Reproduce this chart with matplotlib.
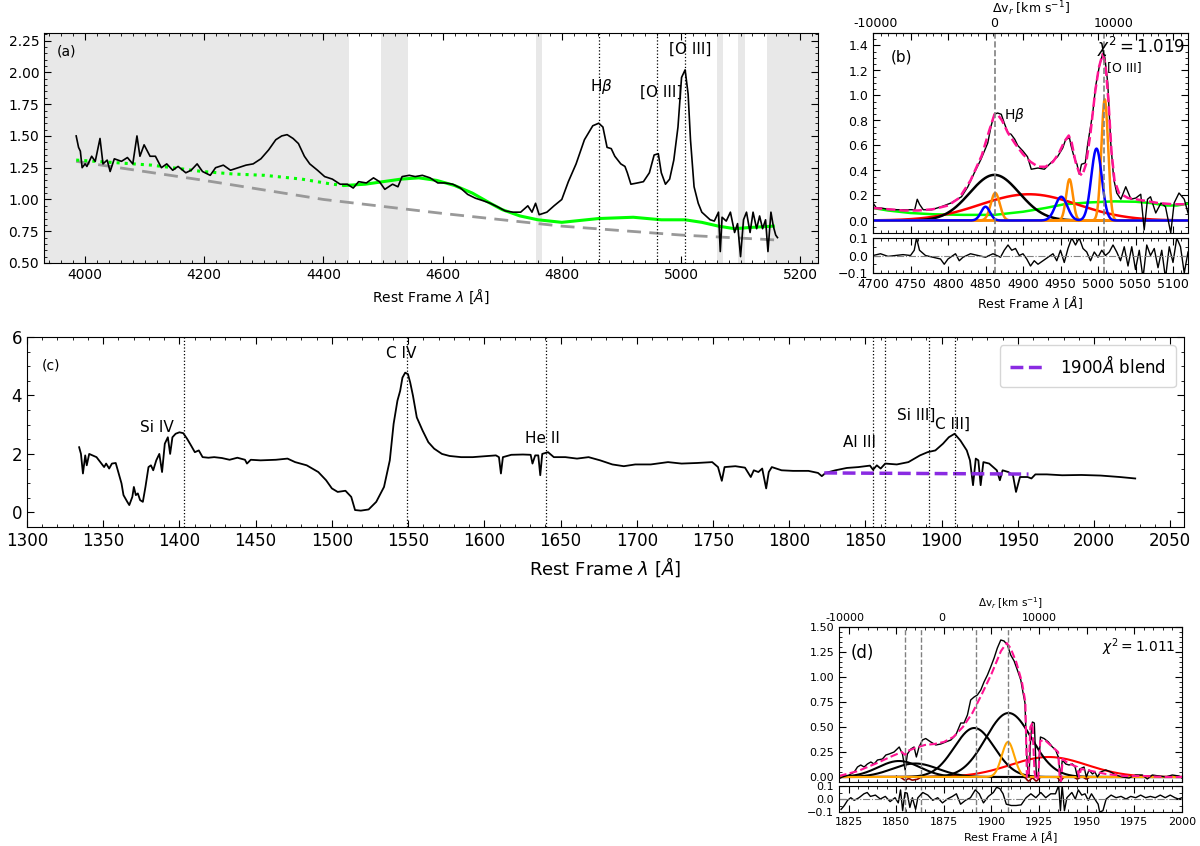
import numpy as np
import matplotlib
matplotlib.use("Agg")
import matplotlib.pyplot as plt
from matplotlib.ticker import MultipleLocator

# ---------------- panel (a): optical spectrum ----------------
wa = [3985, 3989, 3992, 3995, 4000, 4003, 4011, 4017, 4025, 4030, 4037, 4042, 4049, 4061, 4071,
      4080, 4087, 4092, 4099, 4109, 4118, 4128, 4137, 4147, 4156, 4169, 4178, 4188, 4197, 4210,
      4219, 4232, 4244, 4257, 4270, 4282, 4295, 4308, 4320, 4330, 4339, 4349, 4358, 4368, 4377,
      4390, 4402, 4415, 4428, 4440, 4450, 4459, 4472, 4484, 4494, 4503, 4516, 4525, 4532, 4544,
      4554, 4566, 4579, 4592, 4604, 4617, 4630, 4642, 4655, 4668, 4680, 4693, 4705, 4718, 4731,
      4743, 4750, 4756, 4762, 4775, 4787, 4800, 4811, 4824, 4838, 4852, 4862, 4869, 4876, 4883,
      4889, 4899, 4906, 4910, 4916, 4927, 4937, 4947, 4955, 4962, 4967, 4974, 4981, 4988, 4995,
      5001, 5007, 5012, 5016, 5022, 5029, 5035, 5042, 5049, 5056, 5063, 5066, 5069, 5076, 5083,
      5090, 5095, 5100, 5105, 5110, 5116, 5121, 5127, 5132, 5137, 5142, 5146, 5151, 5155, 5159, 5162]
fa = [1.50, 1.41, 1.38, 1.25, 1.28, 1.26, 1.34, 1.30, 1.48, 1.28, 1.31, 1.22, 1.32, 1.30, 1.33,
      1.28, 1.50, 1.34, 1.43, 1.34, 1.34, 1.25, 1.28, 1.23, 1.26, 1.21, 1.23, 1.28, 1.22, 1.19,
      1.25, 1.27, 1.23, 1.25, 1.27, 1.28, 1.32, 1.39, 1.47, 1.50, 1.51, 1.48, 1.44, 1.34, 1.28,
      1.23, 1.18, 1.16, 1.12, 1.12, 1.09, 1.14, 1.13, 1.17, 1.14, 1.08, 1.12, 1.10, 1.18, 1.19,
      1.18, 1.19, 1.17, 1.13, 1.13, 1.12, 1.09, 1.04, 1.01, 0.99, 0.97, 0.94, 0.91, 0.90, 0.90,
      0.95, 0.90, 0.97, 0.88, 0.90, 0.95, 1.00, 1.14, 1.28, 1.47, 1.58, 1.60, 1.57, 1.41, 1.40,
      1.34, 1.28, 1.26, 1.21, 1.12, 1.13, 1.14, 1.21, 1.35, 1.36, 1.21, 1.12, 1.16, 1.31, 1.57,
      1.96, 2.02, 1.83, 1.47, 1.10, 0.97, 0.90, 0.87, 0.84, 0.83, 0.90, 0.59, 0.86, 0.83, 0.90,
      0.74, 0.81, 0.55, 0.84, 0.90, 0.74, 0.90, 0.77, 0.87, 0.77, 0.84, 0.59, 0.90, 0.79, 0.72, 0.70]

# Fe II template: solid inside the fit window, dotted outside
feii_w = [4435, 4470, 4500, 4530, 4560, 4590, 4620, 4650, 4680, 4700, 4730, 4760, 4800, 4862,
          4920, 4967, 5007, 5035, 5063, 5090, 5117, 5155]
feii_f = [1.11, 1.12, 1.14, 1.16, 1.17, 1.15, 1.11, 1.05, 0.97, 0.92, 0.87, 0.84, 0.82, 0.85,
          0.86, 0.84, 0.84, 0.82, 0.79, 0.77, 0.78, 0.79]
feii_dot_w = [3985, 4050, 4112, 4197, 4250, 4301, 4364, 4415, 4435]
feii_dot_f = [1.31, 1.29, 1.27, 1.22, 1.20, 1.19, 1.16, 1.12, 1.11]

pl_w = [3985, 4200, 4400, 4600, 4800, 5000, 5165]
pl_f = [1.30, 1.15, 1.00, 0.89, 0.79, 0.72, 0.68]

mask_lo = [3931, 4496, 4756, 5061, 5095, 5144]
mask_hi = [4443, 4542, 4766, 5071, 5108, 5230]

lines_a = [4862, 4959, 5007]

# ---------------- panel (b): Hbeta fit ----------------
wb = [4700, 4704.6, 4711, 4720, 4733, 4747, 4755.6, 4759, 4762, 4767, 4778, 4791, 4804, 4818,
      4826.5, 4835, 4844, 4853, 4857.6, 4862, 4866, 4871, 4875, 4880, 4884, 4889, 4893, 4900,
      4906, 4911, 4920, 4928.5, 4937, 4946, 4953, 4957, 4962, 4964, 4968, 4972, 4975, 4978,
      4983, 4986, 4993, 4997, 5002, 5006, 5009, 5013, 5017, 5021, 5025, 5030.5, 5037, 5044,
      5050.5, 5057, 5061.6, 5066, 5070, 5077, 5084, 5090, 5097, 5101.5, 5108, 5115, 5120]
fb = [0.14, 0.10, 0.10, 0.09, 0.086, 0.086, 0.086, 0.17, 0.13, 0.086, 0.086, 0.11, 0.14, 0.19,
      0.27, 0.38, 0.49, 0.62, 0.76, 0.85, 0.86, 0.85, 0.78, 0.70, 0.69, 0.65, 0.60, 0.555,
      0.51, 0.41, 0.42, 0.41, 0.46, 0.51, 0.58, 0.65, 0.66, 0.60, 0.51, 0.45, 0.37, 0.45,
      0.46, 0.60, 0.86, 1.08, 1.24, 1.33, 1.31, 1.10, 0.62, 0.33, 0.22, 0.17, 0.27, 0.17,
      0.18, 0.21, -0.075, 0.17, 0.19, 0.06, 0.14, 0.11, -0.10, 0.14, 0.22, 0.17, 0.06]

fit_bw = [4700, 4720, 4740, 4760, 4780, 4800, 4815, 4830, 4845, 4855, 4862, 4866, 4872, 4880,
          4890, 4900, 4910, 4920, 4930, 4940, 4948, 4955, 4961, 4965, 4970, 4975, 4979, 4984,
          4990, 4996, 5001, 5006, 5010, 5014, 5018, 5022, 5028, 5040, 5060, 5080, 5100, 5120]
fit_bf = [0.10, 0.09, 0.08, 0.08, 0.09, 0.12, 0.18, 0.32, 0.52, 0.72, 0.85, 0.85, 0.80, 0.70,
          0.61, 0.53, 0.47, 0.43, 0.43, 0.47, 0.54, 0.63, 0.68, 0.62, 0.47, 0.38, 0.36, 0.45,
          0.70, 1.02, 1.22, 1.33, 1.25, 0.95, 0.55, 0.32, 0.22, 0.18, 0.16, 0.14, 0.13, 0.13]

feb_w = [4700, 4720, 4750, 4780, 4820, 4862, 4900, 4930, 4955, 4990, 5022, 5050, 5070, 5090, 5105, 5120]
feb_f = [0.10, 0.08, 0.06, 0.05, 0.045, 0.045, 0.07, 0.10, 0.13, 0.145, 0.153, 0.15, 0.14, 0.12, 0.12, 0.135]

# gaussian components: (amplitude, centre, sigma)
b_black = [(0.365, 4862, 33)]
b_red = [(0.21, 4908, 65)]
b_blue = [(0.11, 4850, 6), (0.19, 4951, 8), (0.575, 4998, 7)]
b_orange = [(0.22, 4863, 6), (0.33, 4962, 4.5), (0.97, 5009, 4.5)]

res_bw = [4700, 4710, 4720, 4730, 4740, 4750, 4755, 4758, 4762, 4770, 4780, 4790, 4795, 4800,
          4810, 4815, 4820, 4830, 4840, 4850, 4860, 4870, 4875, 4880, 4885, 4890, 4895, 4900,
          4905, 4910, 4915, 4920, 4930, 4940, 4945, 4950, 4955, 4960, 4965, 4970, 4975, 4980,
          4985, 4990, 4995, 5000, 5005, 5010, 5015, 5020, 5025, 5030, 5035, 5040, 5045, 5050,
          5055, 5060, 5065, 5070, 5075, 5080, 5085, 5090, 5095, 5100, 5105, 5110, 5115, 5120]
res_bf = [0.0, 0.01, -0.005, 0.0, 0.005, 0.0, 0.03, 0.10, 0.03, 0.0, -0.01, -0.02, -0.05, -0.02,
          0.01, -0.03, -0.01, 0.01, 0.0, -0.01, 0.01, -0.01, 0.03, 0.06, 0.03, 0.04, 0.0, 0.01,
          -0.02, -0.06, -0.03, -0.05, -0.02, 0.01, -0.03, 0.03, -0.04, 0.04, 0.10, 0.06, 0.10, 0.04,
          0.02, -0.03, 0.02, -0.01, 0.03, 0.0, 0.02, 0.06, 0.02, -0.03, 0.05, -0.06, 0.05, -0.08,
          0.03, -0.13, 0.06, 0.0, 0.04, -0.07, 0.03, -0.13, 0.05, -0.04, 0.10, 0.05, -0.10, 0.02]

# ---------------- panel (c): UV spectrum ----------------
wc = [1334.2, 1335.4, 1336.7, 1338.2, 1339.2, 1340.8, 1343, 1345.6, 1348.1, 1350.6, 1351.9, 1353.9,
      1355.7, 1358.2, 1360.8, 1362, 1363.3, 1365.8, 1367.1, 1369.1, 1370.1, 1371.4, 1372.7, 1374.2,
      1376, 1377.7, 1379.7, 1381.3, 1382.8, 1384.8, 1386.8, 1388.6, 1390.4, 1392.4, 1393.9, 1395.4,
      1397.5, 1400, 1402.5, 1405, 1407.6, 1410.1, 1412.7, 1415.2, 1419, 1422.8, 1427.8, 1432.9,
      1438, 1443, 1444.3, 1446.8, 1453.2, 1463.3, 1470.9, 1475.9, 1483.5, 1491.1, 1496.2, 1500,
      1503.8, 1508.9, 1512.7, 1515.2, 1519, 1524.1, 1529.1, 1534.2, 1538, 1540.5, 1543, 1544.8,
      1546.3, 1548.1, 1549.9, 1551.4, 1553.2, 1555.7, 1559.5, 1563.3, 1567.1, 1572.2, 1577.2,
      1584.8, 1592.4, 1600, 1607.6, 1609.6, 1610.9, 1612.2, 1617.7, 1625.3, 1630.4, 1631.6,
      1633.4, 1635.4, 1636.7, 1638, 1641.8, 1645.6, 1653.2, 1660.8, 1668.4, 1676, 1684, 1691.5,
      1699, 1709.2, 1720.5, 1729.4, 1739.5, 1749.5, 1753.3, 1755.8, 1757.6, 1764.7, 1771, 1774.8,
      1776.8, 1779.8, 1782.3, 1784.9, 1786.6, 1788.6, 1795, 1802.5, 1812.6, 1818.9, 1821.4,
      1823.9, 1830.3, 1837.8, 1845.4, 1853, 1855, 1857.5, 1860, 1863, 1870.6, 1878.2, 1885.8,
      1890.8, 1895.9, 1900.9, 1904.7, 1908.5, 1912.3, 1916.5, 1918.6, 1920.6, 1922.4, 1924.1,
      1925.6, 1927.4, 1931.2, 1936.2, 1938.2, 1940, 1943.8, 1946.8, 1948.8, 1951.4, 1956.4,
      1958.9, 1961.5, 1969, 1979.1, 1991.7, 2004.3, 2016.9, 2027]
fc = [2.23, 2.0, 1.33, 1.95, 1.61, 2.0, 1.95, 1.89, 1.72, 1.55, 1.67, 1.50,
      1.67, 1.69, 1.21, 0.99, 0.59, 0.36, 0.25, 0.53, 0.87, 0.59, 0.65, 0.42,
      0.36, 0.87, 1.55, 1.61, 1.44, 1.78, 2.0, 1.38, 2.35, 2.57, 2.0, 2.57,
      2.69, 2.74, 2.71, 2.52, 2.29, 2.06, 2.12, 1.89, 1.87, 1.89, 1.86, 1.80,
      1.87, 1.80, 1.67, 1.80, 1.78, 1.80, 1.84, 1.72, 1.61, 1.38, 1.10, 0.82,
      0.70, 0.74, 0.53, 0.08, 0.06, 0.10, 0.36, 0.87, 1.78, 3.03, 3.82, 4.16,
      4.61, 4.78, 4.73, 4.44, 3.99, 3.25, 2.80, 2.40, 2.18, 2.0, 1.93,
      1.89, 1.89, 1.92, 1.95, 1.89, 1.33, 1.89, 1.97, 1.98, 1.97, 1.67,
      1.95, 1.95, 1.27, 2.0, 2.06, 1.89, 1.89, 1.84, 1.89, 1.78, 1.64, 1.58,
      1.64, 1.64, 1.72, 1.67, 1.69, 1.72, 1.55, 1.08, 1.55, 1.58, 1.53, 1.21,
      1.44, 1.38, 1.50, 0.82, 1.38, 1.55, 1.44, 1.42, 1.42, 1.35, 1.24,
      1.35, 1.44, 1.52, 1.55, 1.60, 1.46, 1.61, 1.50, 1.67, 1.64, 1.72, 1.95,
      2.06, 2.12, 2.35, 2.57, 2.69, 2.46, 2.12, 1.78, 0.93, 1.84, 1.78,
      0.93, 1.72, 1.67, 1.44, 1.10, 1.44, 1.38, 1.27, 0.70, 1.21, 1.21,
      1.16, 1.30, 1.30, 1.27, 1.28, 1.26, 1.21, 1.16]

blend_w = [1823, 1957]
blend_f = [1.35, 1.31]

lines_c = [1402.8, 1549.1, 1640.4, 1854.7, 1862.8, 1892.0, 1908.7]
names_c = ['Si IV', 'C IV', 'He II', 'Al III', 'Si III]', 'C III]']
name_x = [1385, 1545.5, 1638, 1846, 1883, 1907]
name_y = [2.91, 5.43, 2.52, 2.40, 3.31, 3.0]

# ---------------- panel (d): 1900 blend fit ----------------
wd = [1819.7, 1821.8, 1825.3, 1828, 1829.7, 1831.4, 1833.2, 1834.9, 1836.7, 1838.4, 1840.2, 1842.8,
      1844.6, 1846.3, 1848.9, 1851.6, 1853.3, 1854.7, 1855.9, 1857.7, 1859.4, 1860.6, 1862, 1863.8,
      1865.5, 1868.2, 1870.8, 1873.4, 1876, 1878.7, 1881.3, 1883.9, 1885.6, 1887.4, 1889.1, 1890.9,
      1892.6, 1894.4, 1896.1, 1897.9, 1899.6, 1901.4, 1903.1, 1904.9, 1906.6, 1908.4, 1910.1,
      1911.9, 1913.6, 1915.4, 1916.6, 1917.6, 1918.7, 1919.7, 1920.6, 1921.5, 1922.5, 1923.6,
      1924.6, 1925.7, 1927.6, 1929.9, 1932, 1933.7, 1935.1, 1936.2, 1937.2, 1939, 1940.7, 1942.5,
      1943.9, 1945.1, 1946.3, 1948.6, 1949.8, 1951.2, 1953, 1954.3, 1955.6, 1957.3, 1960, 1962.6,
      1965.2, 1968.7, 1972.2, 1975.7, 1979.2, 1981.8, 1984.4, 1987.9, 1991.4, 1994.9, 1998.4, 2000]
fd = [-0.02, 0.0, 0.02, 0.05, 0.10, 0.12, 0.10, 0.13, 0.15, 0.13, 0.17, 0.18,
      0.22, 0.23, 0.25, 0.30, 0.23, 0.07, 0.23, 0.28, 0.30, 0.20, 0.30, 0.37,
      0.385, 0.35, 0.32, 0.33, 0.35, 0.37, 0.42, 0.54, 0.54, 0.62, 0.77, 0.80,
      0.82, 0.87, 0.95, 1.02, 1.10, 1.19, 1.29, 1.37, 1.36, 1.32, 1.22,
      1.16, 1.07, 0.97, 0.84, 0.74, 0.13, 0.0, 0.40, 0.55, 0.54, 0.0,
      0.02, 0.40, 0.385, 0.35, 0.30, 0.27, 0.20, 0.0, 0.17, 0.13, 0.12, 0.13,
      0.10, 0.0, 0.08, 0.10, 0.0, 0.07, 0.03, 0.05, 0.0, 0.05, 0.07, 0.05,
      0.02, 0.0, -0.01, 0.02, 0.02, -0.02, 0.02, 0.01, 0.0, 0.02, 0.01, -0.01]

fit_dw = [1820, 1830, 1840, 1848, 1853, 1854.7, 1856, 1860, 1865, 1870, 1875, 1880, 1885, 1890,
          1895, 1900, 1905, 1908, 1910, 1913, 1916, 1917.8, 1918.6, 1919.4, 1920.4, 1921.5,
          1922.6, 1923.5, 1924.6, 1925.6, 1928, 1932, 1935, 1935.8, 1936.5, 1937.4, 1940, 1945,
          1946, 1947, 1950, 1955, 1960, 1970, 1980, 1990, 2000]
fit_df = [0.01, 0.06, 0.14, 0.21, 0.25, 0.22, 0.26, 0.29, 0.32, 0.33, 0.35, 0.40, 0.50, 0.64,
          0.83, 1.03, 1.26, 1.34, 1.29, 1.15, 0.95, 0.75, 0.0, 0.0, 0.50, 0.54, 0.05, -0.03, 0.0,
          0.36, 0.37, 0.30, 0.25, 0.0, -0.04, 0.18, 0.14, 0.10, 0.0, 0.08, 0.07, 0.05, 0.03,
          0.01, 0.01, 0.0, 0.0]

d_black = [(0.16, 1851.5, 11), (0.135, 1860, 12), (0.49, 1891, 10.5), (0.64, 1909, 12)]
d_orange = [(0.35, 1908.7, 3.3)]
d_red = [(0.20, 1930, 20)]
d_abs = [(-0.03, 1854.7, 1.2), (-0.03, 1858.5, 1.2), (-0.02, 1861, 1.0), (-0.04, 1919.5, 1.0),
         (-0.04, 1923.5, 1.0), (-0.04, 1936.2, 0.8), (-0.02, 1945, 0.8), (-0.02, 1949.8, 0.8)]

res_dw = [1821.1, 1822.8, 1824.5, 1826.2, 1828, 1830.5, 1833.1, 1834.8, 1836.5, 1839.1, 1841.7,
          1844.3, 1846.8, 1849.4, 1851.1, 1852.3, 1853.4, 1854.6, 1855.8, 1857.2, 1858.5, 1860.2,
          1861.4, 1864, 1866.6, 1869.2, 1871.8, 1874.3, 1876.9, 1879.5, 1881.6, 1883.8, 1886.4,
          1889, 1891.5, 1893.6, 1895.8, 1898.4, 1901, 1902.7, 1904.4, 1906.1, 1907.8, 1910.4,
          1913, 1915.6, 1918.2, 1920.7, 1923.3, 1925.9, 1928.5, 1931.1, 1933.6, 1935.3, 1936.2,
          1937.1, 1938.3, 1939.6, 1942.2, 1944, 1945.6, 1947.4, 1949.1, 1950.8, 1952.5, 1954.2,
          1956, 1956.8, 1958.5, 1960.2, 1962.8, 1965.4, 1968, 1970.6, 1973.1, 1975.7, 1978.3,
          1980.9, 1983.4, 1986, 1988.6, 1991.2, 1993.8, 1996.3, 1998.1, 2000]
res_df = [-0.08, -0.05, -0.01, 0.01, -0.01, 0.01, 0.04, 0.05, 0.02, 0.03, 0.0,
          0.02, -0.02, 0.01, -0.03, 0.07, -0.09, 0.05, 0.045, -0.065, 0.01, -0.08,
          0.01, 0.05, 0.03, -0.01, 0.01, -0.03, 0.0, 0.02, 0.04, -0.04, -0.01,
          0.01, 0.07, 0.04, -0.03, 0.02, 0.05, 0.09, 0.08, 0.04, -0.04, -0.05,
          -0.05, -0.045, 0.01, 0.04, 0.01, 0.05, 0.01, 0.04, 0.04, 0.105, -0.09,
          0.105, -0.09, 0.01, 0.05, 0.0, 0.07, 0.03, 0.04, -0.01, 0.04, 0.0,
          -0.04, -0.10, -0.09, 0.0, 0.03, 0.01, 0.02, 0.0, 0.02, 0.01, 0.03,
          0.01, 0.02, 0.01, 0.03, 0.01, 0.03, 0.01, 0.0, 0.01]
lines_d = [1854.7, 1862.8, 1892.0, 1908.7]


def gauss(x, amp, mu, sig):
    return amp * np.exp(-0.5 * ((x - mu) / sig) ** 2)


def style(ax, xmaj, xmin, ymaj, ymin, size):
    ax.xaxis.set_major_locator(MultipleLocator(xmaj))
    ax.xaxis.set_minor_locator(MultipleLocator(xmin))
    ax.yaxis.set_major_locator(MultipleLocator(ymaj))
    ax.yaxis.set_minor_locator(MultipleLocator(ymin))
    ax.tick_params(which='both', direction='in', top=True, right=True, labelsize=size)
    ax.tick_params(which='major', length=5)
    ax.tick_params(which='minor', length=2.5)


W, H = 1200, 846


def box(l, t, r, b):
    return [l / W, 1 - b / H, (r - l) / W, (b - t) / H]


fig = plt.figure(figsize=(12, 8.46), dpi=100)

# ---- (a)
ax_a = fig.add_axes(box(44, 33, 818, 263))
for lo, hi in zip(mask_lo, mask_hi):
    ax_a.axvspan(lo, hi, color='#e8e8e8', lw=0, zorder=0)
ax_a.plot(pl_w, pl_f, '--', color='#999999', lw=2, dashes=(5, 3))
ax_a.plot(feii_dot_w, feii_dot_f, ':', color='#00ff00', lw=2.2)
ax_a.plot(feii_w, feii_f, '-', color='#00ff00', lw=2.2)
ax_a.plot(wa, fa, color='k', lw=1.2)
for l in lines_a:
    ax_a.axvline(l, color='k', ls=':', lw=0.9)
ax_a.text(4867, 1.89, r'H$\beta$', ha='center', va='center', fontsize=11)
ax_a.text(4966, 1.84, '[O III]', ha='center', va='center', fontsize=11)
ax_a.text(5016, 2.18, '[O III]', ha='center', va='center', fontsize=11)
ax_a.text(0.017, 0.9, '(a)', transform=ax_a.transAxes, fontsize=10)
ax_a.set_xlim(3931, 5230)
ax_a.set_ylim(0.5, 2.31)
style(ax_a, 200, 20, 0.25, 0.05, 10)
ax_a.set_xlabel(r'Rest Frame $\lambda$ [$\AA$]', fontsize=10)

# ---- (b)
ax_b = fig.add_axes(box(873, 33, 1188, 233))
ax_br = fig.add_axes(box(873, 238, 1188, 273), sharex=ax_b)
xb = np.linspace(4700, 5120, 1200)
ax_b.plot(feb_w, feb_f, color='#00ff00', lw=1.8)
for a, m, s in b_red:
    ax_b.plot(xb, gauss(xb, a, m, s), color='red', lw=1.8)
for a, m, s in b_black:
    ax_b.plot(xb, gauss(xb, a, m, s), color='k', lw=1.8)
for a, m, s in b_orange:
    ax_b.plot(xb, gauss(xb, a, m, s), color='darkorange', lw=1.8)
blue_sum = sum(gauss(xb, a, m, s) for a, m, s in b_blue)
ax_b.plot(xb, blue_sum, color='blue', lw=1.8)
ax_b.plot(wb, fb, color='k', lw=1.0)
ax_b.plot(fit_bw, fit_bf, '--', color='deeppink', lw=1.8)
for l in [4862, 5008]:
    ax_b.axvline(l, color='gray', ls='--', lw=1.2)
    ax_br.axvline(l, color='gray', ls='--', lw=1.2)
ax_b.text(4888, 0.84, r'H$\beta$', ha='center', va='center', fontsize=10)
ax_b.text(5035, 1.225, '[O III]', ha='center', va='center', fontsize=9)
ax_b.text(0.99, 0.9, r'$\chi^2 = 1.019$', transform=ax_b.transAxes, ha='right', fontsize=12)
ax_b.text(0.055, 0.86, '(b)', transform=ax_b.transAxes, fontsize=11)
ax_b.set_xlim(4700, 5120)
ax_b.set_ylim(-0.1, 1.5)
style(ax_b, 50, 10, 0.2, 0.05, 9)
ax_b.tick_params(labelbottom=False)
vel_b = ax_b.secondary_xaxis('top', functions=(lambda l: (l - 4862) * 10000 / 159,
                                               lambda v: 4862 + v * 159 / 10000))
vel_b.set_xticks([-10000, 0, 10000], labels=['-10000', '0', '10000'])
vel_b.tick_params(direction='in', length=0, labelsize=9, pad=2)
vel_b.set_xlabel(r'$\Delta$v$_r$ [km s$^{-1}$]', fontsize=9, labelpad=3)

ax_br.plot(res_bw, res_bf, color='k', lw=1.0)
ax_br.axhline(0, color='gray', ls='-.', lw=0.8)
ax_br.set_ylim(-0.1, 0.1)
style(ax_br, 50, 10, 0.1, 0.05, 9)
ax_br.set_xlabel(r'Rest Frame $\lambda$ [$\AA$]', fontsize=9, labelpad=2)

# ---- (c)
ax_c = fig.add_axes(box(27, 337, 1184, 527))
ax_c.plot(wc, fc, color='k', lw=1.3)
ax_c.plot(blend_w, blend_f, '--', color='blueviolet', lw=2.5, label=r'1900$\AA$ blend')
for l in lines_c:
    ax_c.axvline(l, color='k', ls=':', lw=0.9)
for n, x, y in zip(names_c, name_x, name_y):
    ax_c.text(x, y, n, ha='center', va='center', fontsize=11)
ax_c.text(0.013, 0.83, '(c)', transform=ax_c.transAxes, fontsize=10)
ax_c.set_xlim(1300, 2059)
ax_c.set_ylim(-0.5, 6)
style(ax_c, 50, 10, 2, 0.5, 12)
ax_c.set_xlabel(r'Rest Frame $\lambda$ [$\AA$]', fontsize=13)
ax_c.legend(loc='upper right', fontsize=12, handlelength=2.2, borderpad=0.6)

# ---- (d)
ax_d = fig.add_axes(box(839, 627, 1182, 782))
ax_dr = fig.add_axes(box(839, 786, 1182, 812), sharex=ax_d)
xd = np.linspace(1820, 2000, 1500)
absd = sum(gauss(xd, a, m, s) for a, m, s in d_abs)
ax_d.plot(xd, absd, color='darkred', lw=1.2)
for a, m, s in d_red:
    ax_d.plot(xd, gauss(xd, a, m, s), color='red', lw=1.5)
for a, m, s in d_black:
    ax_d.plot(xd, gauss(xd, a, m, s), color='k', lw=1.5)
for a, m, s in d_orange:
    ax_d.plot(xd, gauss(xd, a, m, s), color='orange', lw=1.5)
ax_d.plot(wd, fd, color='k', lw=1.0)
ax_d.plot(fit_dw, fit_df, '--', color='deeppink', lw=1.5)
for l in lines_d:
    ax_d.axvline(l, color='gray', ls='--', lw=1.0)
    ax_dr.axvline(l, color='gray', ls='--', lw=1.0)
ax_d.text(0.035, 0.8, '(d)', transform=ax_d.transAxes, fontsize=12)
ax_d.text(0.98, 0.84, r'$\chi^2 = 1.011$', transform=ax_d.transAxes, ha='right', fontsize=10)
ax_d.set_xlim(1820, 2000)
ax_d.set_ylim(-0.05, 1.5)
style(ax_d, 25, 5, 0.25, 0.05, 8)
ax_d.tick_params(labelbottom=False)
vel_d = ax_d.secondary_xaxis('top', functions=(lambda l: (l - 1874) * 10000 / 51,
                                               lambda v: 1874 + v * 51 / 10000))
vel_d.set_xticks([-10000, 0, 10000], labels=['-10000', '0', '10000'])
vel_d.tick_params(direction='in', length=0, labelsize=8, pad=3)
vel_d.set_xlabel(r'$\Delta$v$_r$ [km s$^{-1}$]', fontsize=7.5, labelpad=4)

ax_dr.plot(res_dw, res_df, color='k', lw=1.0)
ax_dr.axhline(0, color='gray', ls='-.', lw=0.8)
ax_dr.set_ylim(-0.1, 0.1)
style(ax_dr, 25, 5, 0.1, 0.05, 8)
ax_dr.set_xlabel(r'Rest Frame $\lambda$ [$\AA$]', fontsize=8, labelpad=2)

fig.savefig('out.png', dpi=100)
